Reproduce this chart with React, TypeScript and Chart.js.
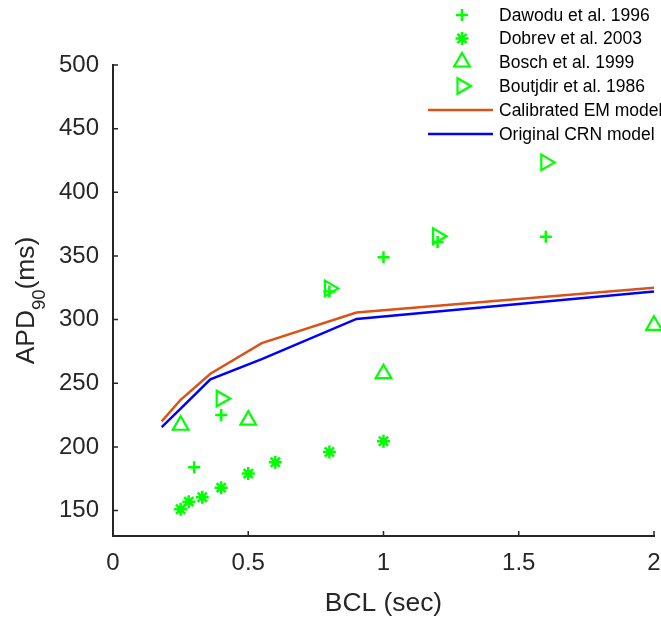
import React, { useEffect, useRef } from 'react';
import { Chart, registerables } from 'chart.js';

Chart.register(...registerables);

// ---- data ----
const DAWODU_BCL = [0.3, 0.4, 0.8, 1.0, 1.2, 1.6];
const DAWODU_APD = [184, 225, 322, 349, 361, 365];

const DOBREV_BCL = [0.25, 0.28, 0.33, 0.4, 0.5, 0.6, 0.8, 1.0];
const DOBREV_APD = [151, 157, 160.5, 168, 179, 188, 196, 204.5];

const BOSCH_BCL = [0.25, 0.5, 1.0, 2.0];
const BOSCH_APD = [217, 221, 257.5, 295.5];

const BOUTJDIR_BCL = [0.4, 0.8, 1.2, 1.6];
const BOUTJDIR_APD = [238, 324.5, 365.5, 423.5];

const MODEL_BCL = [0.18, 0.25, 0.36, 0.55, 0.9, 2.0];
const EM_APD = [220, 237, 257.5, 281.5, 305.5, 325];
const CRN_APD = [215.5, 230, 253, 269, 300.5, 322];

const X_TICKS = [0, 0.5, 1, 1.5, 2];
const Y_TICKS = [150, 200, 250, 300, 350, 400, 450, 500];

const LEGEND_LABELS = [
  'Dawodu et al. 1996',
  'Dobrev et al. 2003',
  'Bosch et al. 1999',
  'Boutjdir et al. 1986',
  'Calibrated EM model',
  'Original CRN model',
];

const GREEN = '#00FF00';
const ORANGE = '#D95319';
const BLUE = '#0000FF';
const AXIS = '#262626';
const FONT = "'Liberation Sans', Arial, sans-serif";

const CROSS_R = 6;
const STAR_R = 6.5;
const TRI_R = 9;

const pts = (xs: number[], ys: number[]) => xs.map((x, i) => ({ x, y: ys[i] }));

function drawMarker(ctx: CanvasRenderingContext2D, kind: string, x: number, y: number, r: number) {
  ctx.beginPath();
  if (kind === 'cross') {
    ctx.moveTo(x - r, y); ctx.lineTo(x + r, y);
    ctx.moveTo(x, y - r); ctx.lineTo(x, y + r);
  } else if (kind === 'star') {
    ctx.moveTo(x - r, y); ctx.lineTo(x + r, y);
    ctx.moveTo(x, y - r); ctx.lineTo(x, y + r);
    const d = Math.cos(Math.PI / 4) * r;
    ctx.moveTo(x - d, y - d); ctx.lineTo(x + d, y + d);
    ctx.moveTo(x - d, y + d); ctx.lineTo(x + d, y - d);
  } else {
    let rad = kind === 'triRight' ? Math.PI / 2 : 0;
    ctx.moveTo(x + Math.sin(rad) * r, y - Math.cos(rad) * r);
    rad += (2 * Math.PI) / 3;
    ctx.lineTo(x + Math.sin(rad) * r, y - Math.cos(rad) * r);
    rad += (2 * Math.PI) / 3;
    ctx.lineTo(x + Math.sin(rad) * r, y - Math.cos(rad) * r);
    ctx.closePath();
  }
  ctx.stroke();
}

const decorPlugin = {
  id: 'decor',
  afterDraw(chart: any) {
    const ctx: CanvasRenderingContext2D = chart.ctx;
    const { left, right, top, bottom } = chart.chartArea;
    const xs = chart.scales.x;
    const ys = chart.scales.y;
    ctx.save();

    // inward tick marks
    ctx.strokeStyle = AXIS;
    ctx.lineWidth = 1.5;
    ctx.beginPath();
    xs.ticks.forEach((t: any) => {
      const px = xs.getPixelForValue(t.value);
      ctx.moveTo(px, bottom);
      ctx.lineTo(px, bottom - 5);
    });
    ys.ticks.forEach((t: any) => {
      const py = ys.getPixelForValue(t.value);
      ctx.moveTo(left, py);
      ctx.lineTo(left + 5, py);
    });
    ctx.stroke();

    // x title
    ctx.fillStyle = AXIS;
    ctx.font = `26.4px ${FONT}`;
    ctx.textAlign = 'center';
    ctx.textBaseline = 'alphabetic';
    ctx.fillText('BCL (sec)', (left + right) / 2, 611);

    // y title with subscript
    ctx.save();
    ctx.translate(33.5, (top + bottom) / 2);
    ctx.rotate(-Math.PI / 2);
    ctx.textAlign = 'left';
    const big = `26.4px ${FONT}`;
    const small = `18.5px ${FONT}`;
    ctx.font = big;
    const w1 = ctx.measureText('APD').width;
    const w3 = ctx.measureText('(ms)').width;
    ctx.font = small;
    const w2 = ctx.measureText('90').width;
    let sx = -(w1 + w2 + w3) / 2;
    ctx.font = big;
    ctx.fillText('APD', sx, 0);
    sx += w1;
    ctx.font = small;
    ctx.fillText('90', sx, 11.5);
    sx += w2;
    ctx.font = big;
    ctx.fillText('(ms)', sx, 0);
    ctx.restore();

    // legend
    const rows = [15, 38.5, 62, 86, 110, 134];
    const kinds = ['cross', 'star', 'triUp', 'triRight', 'line', 'line'];
    const colors = [GREEN, GREEN, GREEN, GREEN, ORANGE, BLUE];
    ctx.font = `17.5px ${FONT}`;
    ctx.textAlign = 'left';
    ctx.textBaseline = 'middle';
    rows.forEach((ry, i) => {
      ctx.strokeStyle = colors[i];
      if (kinds[i] === 'line') {
        ctx.lineWidth = 2.5;
        ctx.beginPath();
        ctx.moveTo(428, ry);
        ctx.lineTo(493, ry);
        ctx.stroke();
      } else {
        ctx.lineWidth = kinds[i] === 'cross' || kinds[i] === 'star' ? 2.5 : 2.2;
        const r = kinds[i] === 'cross' ? CROSS_R : kinds[i] === 'star' ? STAR_R : TRI_R;
        drawMarker(ctx, kinds[i], 462, ry, r);
      }
      ctx.fillStyle = '#000000';
      ctx.fillText(LEGEND_LABELS[i], 499, ry + 1);
    });

    ctx.restore();
  },
};

export default function App() {
  const ref = useRef<HTMLCanvasElement | null>(null);

  useEffect(() => {
    if (!ref.current) return;
    const markerBase = {
      showLine: false,
      borderColor: GREEN,
      backgroundColor: 'rgba(0,0,0,0)',
      pointBorderColor: GREEN,
      pointBackgroundColor: 'rgba(0,0,0,0)',
      pointBorderWidth: 2.5,
      clip: false as any,
    };
    const chart = new Chart(ref.current, {
      type: 'scatter',
      data: {
        datasets: [
          { ...markerBase, label: LEGEND_LABELS[0], data: pts(DAWODU_BCL, DAWODU_APD), pointStyle: 'cross', pointRadius: CROSS_R },
          { ...markerBase, label: LEGEND_LABELS[1], data: pts(DOBREV_BCL, DOBREV_APD), pointStyle: 'star', pointRadius: STAR_R },
          { ...markerBase, label: LEGEND_LABELS[2], data: pts(BOSCH_BCL, BOSCH_APD), pointStyle: 'triangle', pointRadius: TRI_R, pointBorderWidth: 2.2 },
          { ...markerBase, label: LEGEND_LABELS[3], data: pts(BOUTJDIR_BCL, BOUTJDIR_APD), pointStyle: 'triangle', pointRadius: TRI_R, pointBorderWidth: 2.2, pointRotation: 90 },
          {
            label: LEGEND_LABELS[4],
            data: pts(MODEL_BCL, EM_APD),
            showLine: true,
            borderColor: ORANGE,
            borderWidth: 2.5,
            pointRadius: 0,
            tension: 0,
          },
          {
            label: LEGEND_LABELS[5],
            data: pts(MODEL_BCL, CRN_APD),
            showLine: true,
            borderColor: BLUE,
            borderWidth: 2.5,
            pointRadius: 0,
            tension: 0,
          },
        ],
      },
      options: {
        animation: false,
        responsive: false,
        events: [],
        layout: { autoPadding: false, padding: { left: 59, right: 7, top: 65, bottom: 43 } },
        plugins: { legend: { display: false }, tooltip: { enabled: false } },
        scales: {
          x: {
            type: 'linear',
            min: 0,
            max: 2,
            afterBuildTicks: (s: any) => { s.ticks = X_TICKS.map((v) => ({ value: v })); },
            afterFit: (s: any) => { s.height = 40; s.paddingLeft = 0; s.paddingRight = 0; },
            grid: { display: true, drawOnChartArea: false, drawTicks: true, tickLength: 13, tickColor: 'rgba(0,0,0,0)' },
            border: { display: true, color: AXIS, width: 2 },
            ticks: {
              color: AXIS,
              font: { family: FONT, size: 24 },
              padding: 0,
              maxRotation: 0,
              autoSkip: false,
              callback: (v: any) => String(v),
            },
          },
          y: {
            type: 'linear',
            min: 130,
            max: 500,
            afterBuildTicks: (s: any) => { s.ticks = Y_TICKS.map((v) => ({ value: v })); },
            afterFit: (s: any) => { s.width = 54; s.paddingTop = 0; s.paddingBottom = 0; },
            grid: { display: true, drawOnChartArea: false, drawTicks: false },
            border: { display: true, color: AXIS, width: 2 },
            ticks: {
              color: AXIS,
              font: { family: FONT, size: 24 },
              padding: 14,
              autoSkip: false,
              callback: (v: any) => String(v),
            },
          },
        },
      },
      plugins: [decorPlugin],
    });
    return () => chart.destroy();
  }, []);

  return (
    <div style={{ position: 'fixed', left: 0, top: 0, width: 661, height: 619, background: '#ffffff' }}>
      <canvas ref={ref} width={661} height={619} style={{ display: 'block' }} />
    </div>
  );
}
